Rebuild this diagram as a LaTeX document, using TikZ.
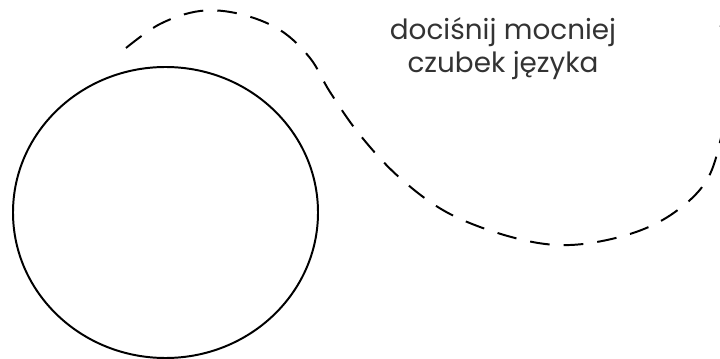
\documentclass[tikz,border=0pt]{standalone}
\usepackage{fontspec}
\newfontfamily\hintfont{Poppins}
\usepackage{xcolor}
\definecolor{hintgray}{HTML}{333333}

\begin{document}
\begin{tikzpicture}[
  x=0.025cm, y=-0.025cm,
  outline/.style={draw, line width=1.4pt},
  guide/.style={draw, line width=1.4pt, dash pattern=on 14pt off 10pt},
  hint/.style={font=\hintfont\fontsize{19.8}{23.5}\selectfont, text=hintgray, align=center},
]
\useasboundingbox (0,0) rectangle (720,359);
\clip (0,0) rectangle (720,359);

% Mouth outline
\draw[outline] (165.5,212.5) ellipse [x radius=152.5, y radius=145.5];

% Tongue path (dashed)
\draw[guide] plot[smooth, tension=0.6] coordinates {
  (126,48) (160,24) (200,11) (240,14) (280,30) (310,58) (330,92)
  (360,135) (400,178) (450,214) (515,238) (570,245) (630,234)
  (675,212) (708,178) (724,125) (733,80) (727,45) (716,14)};

% Hint
\node[hint] (tip) at (503,49) {dociśnij mocniej\\czubek języka};

\end{tikzpicture}
\end{document}
